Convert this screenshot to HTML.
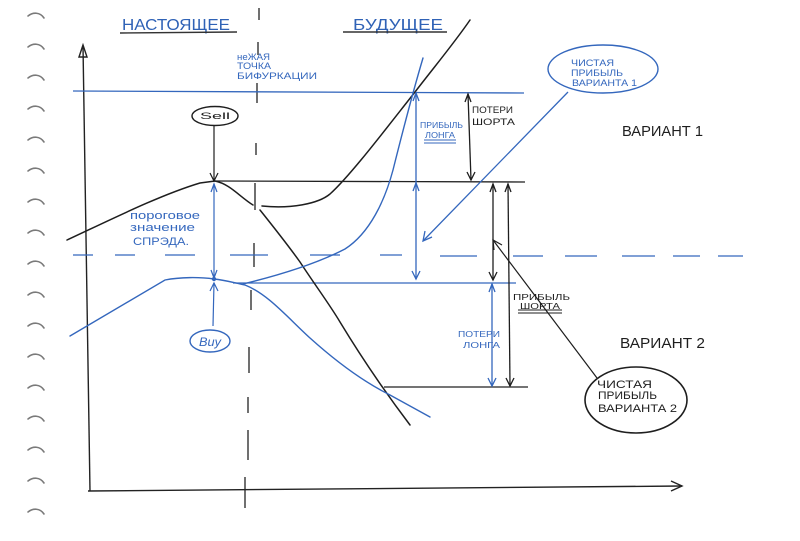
<!DOCTYPE html>
<html><head><meta charset="utf-8">
<style>
html,body{margin:0;padding:0;background:#fff;}
svg{display:block;}
text{font-family:"Liberation Sans","DejaVu Sans",sans-serif;}
</style></head>
<body>
<svg width="800" height="541" viewBox="0 0 800 541" xmlns="http://www.w3.org/2000/svg">
<rect width="800" height="541" fill="#fff"/>
<!-- spiral holes -->
<g stroke="#7a7a7a" stroke-width="1.6" fill="none" stroke-linecap="round">
<path d="M28,16 C33,12 40,12 44,18"/>
<path d="M28,47 C33,43 40,43 44,49"/>
<path d="M28,78 C33,74 40,74 44,80"/>
<path d="M28,109 C33,105 40,105 44,111"/>
<path d="M28,140 C33,136 40,136 44,142"/>
<path d="M28,171 C33,167 40,167 44,173"/>
<path d="M28,202 C33,198 40,198 44,204"/>
<path d="M28,233 C33,229 40,229 44,235"/>
<path d="M28,264 C33,260 40,260 44,266"/>
<path d="M28,295 C33,291 40,291 44,297"/>
<path d="M28,326 C33,322 40,322 44,328"/>
<path d="M28,357 C33,353 40,353 44,359"/>
<path d="M28,388 C33,384 40,384 44,390"/>
<path d="M28,419 C33,415 40,415 44,421"/>
<path d="M28,450 C33,446 40,446 44,452"/>
<path d="M28,481 C33,477 40,477 44,483"/>
<path d="M28,512 C33,508 40,508 44,514"/>
</g>

<!-- titles -->
<g fill="#2f62b6">
<text x="122" y="30" font-size="16" textLength="108" lengthAdjust="spacingAndGlyphs">НАСТОЯЩЕЕ</text>
<text x="353" y="30" font-size="16" textLength="90" lengthAdjust="spacingAndGlyphs">БУДУЩЕЕ</text>
</g>
<g stroke="#333" stroke-width="1.4">
<line x1="120" y1="33" x2="237" y2="32"/>
<line x1="343" y1="32" x2="447" y2="32"/>
</g>

<!-- vertical dashed line -->
<g stroke="#222" stroke-width="1.3">
<line x1="259" y1="8" x2="259" y2="20"/>
<line x1="258" y1="42" x2="258" y2="55"/>
<line x1="257" y1="83" x2="257" y2="103"/>
<line x1="256" y1="143" x2="256" y2="155"/>
<line x1="255" y1="183" x2="255" y2="210"/>
<line x1="254" y1="243" x2="254" y2="267"/>
<line x1="251" y1="290" x2="251" y2="310"/>
<line x1="249" y1="347" x2="249" y2="373"/>
<line x1="248" y1="397" x2="248" y2="413"/>
<line x1="248" y1="430" x2="248" y2="460"/>
<line x1="245" y1="477" x2="245" y2="508"/>
</g>

<!-- axes -->
<g stroke="#222" stroke-width="1.4" fill="none">
<line x1="83" y1="46" x2="90" y2="491"/>
<path d="M79,57 L83,45 L87,57 Z"/>
<line x1="88" y1="491" x2="682" y2="486"/>
<path d="M671,481 L682,486 L671,491"/>
</g>

<!-- horizontal reference lines -->
<g stroke="#3467bd" stroke-width="1.3" fill="none">
<line x1="73" y1="91" x2="524" y2="93"/>
<line x1="233" y1="283" x2="516" y2="283"/>
</g>
<g stroke="#3467bd" stroke-width="1.3">
<line x1="73" y1="255" x2="93" y2="255"/>
<line x1="115" y1="255" x2="135" y2="255"/>
<line x1="165" y1="255" x2="195" y2="255"/>
<line x1="230" y1="255" x2="268" y2="255"/>
<line x1="310" y1="255" x2="340" y2="255"/>
<line x1="380" y1="255" x2="402" y2="255"/>
<line x1="440" y1="256" x2="477" y2="256"/>
<line x1="513" y1="256" x2="543" y2="256"/>
<line x1="565" y1="256" x2="597" y2="256"/>
<line x1="622" y1="256" x2="655" y2="256"/>
<line x1="673" y1="256" x2="700" y2="256"/>
<line x1="718" y1="256" x2="743" y2="256"/>
</g>
<g stroke="#222" stroke-width="1.3">
<line x1="215" y1="181" x2="525" y2="182"/>
<line x1="384" y1="387" x2="528" y2="387"/>
</g>

<!-- black curves -->
<g stroke="#1e1e1e" stroke-width="1.5" fill="none" stroke-linecap="round">
<path d="M67,240 C110,220 160,195 200,183 L215,181 C230,184 240,197 253,205"/>
<path d="M262,206 C290,209 318,204 330,194 C350,176 385,130 415,92 C435,66 455,42 470,20"/>
<path d="M260,210 C280,235 290,248 300,262 C315,285 330,305 340,322 C360,355 385,392 410,425"/>
</g>

<!-- blue curves -->
<g stroke="#3467bd" stroke-width="1.4" fill="none" stroke-linecap="round">
<path d="M70,336 L165,280 C180,277 200,277 214,279 C225,280 235,283 245,285"/>
<path d="M243,284 C280,275 318,263 345,249 C370,233 385,200 393,170 C403,130 412,95 423,58"/>
<path d="M245,285 C268,294 288,318 310,338 C340,365 368,384 390,395 L430,417"/>
</g>

<!-- Sell node -->
<ellipse cx="215" cy="116" rx="23" ry="9.5" fill="#fff" stroke="#1e1e1e" stroke-width="1.4"/>
<text x="200" y="119" font-size="9" fill="#1e1e1e" textLength="30" lengthAdjust="spacingAndGlyphs">Sell</text>
<g stroke="#1e1e1e" stroke-width="1.2" fill="none">
<line x1="214" y1="126" x2="214" y2="181"/>
<path d="M210,173 L214,181 L218,173"/>
</g>

<!-- spread arrow -->
<g stroke="#3467bd" stroke-width="1.2" fill="none">
<line x1="214" y1="184" x2="214" y2="278"/>
<path d="M211,192 L214,184 L217,192"/>
<path d="M211,270 L214,278 L217,270"/>
<line x1="213" y1="326" x2="214" y2="283"/>
<path d="M210,291 L214,283 L218,291"/>
</g>
<circle cx="214" cy="279" r="2.2" fill="#3467bd"/>

<!-- Buy node -->
<ellipse cx="210" cy="341" rx="20" ry="11" fill="#fff" stroke="#3467bd" stroke-width="1.4"/>
<text x="199" y="346" font-size="12" font-style="italic" fill="#3467bd" textLength="22" lengthAdjust="spacingAndGlyphs">Buy</text>

<!-- spread label -->
<g fill="#3467bd" font-size="11">
<text x="130" y="219" textLength="70" lengthAdjust="spacingAndGlyphs">пороговое</text>
<text x="130" y="231" textLength="65" lengthAdjust="spacingAndGlyphs">значение</text>
<text x="133" y="245" textLength="56" lengthAdjust="spacingAndGlyphs">СПРЭДА.</text>
</g>

<!-- bifurcation label -->
<g fill="#3467bd" font-size="9">
<text x="237" y="60" textLength="33" lengthAdjust="spacingAndGlyphs">неЖАЯ</text>
<text x="237" y="69" textLength="34" lengthAdjust="spacingAndGlyphs">ТОЧКА</text>
<text x="237" y="79" textLength="80" lengthAdjust="spacingAndGlyphs">БИФУРКАЦИИ</text>
</g>

<!-- blue profit long arrow -->
<g stroke="#3467bd" stroke-width="1.3" fill="none">
<line x1="416" y1="93" x2="416" y2="279"/>
<path d="M413,101 L416,93 L419,101"/>
<path d="M413,191 L416,183 L419,191"/>
<path d="M412,271 L416,279 L420,271"/>
</g>
<g fill="#3467bd" font-size="8.5">
<text x="420" y="128" textLength="43" lengthAdjust="spacingAndGlyphs">ПРИБЫЛЬ</text>
<text x="425" y="138" textLength="30" lengthAdjust="spacingAndGlyphs">ЛОНГА</text>
</g>
<g stroke="#3467bd" stroke-width="1">
<line x1="424" y1="140" x2="456" y2="140"/>
<line x1="424" y1="143" x2="456" y2="143"/>
</g>

<!-- black short loss arrow -->
<g stroke="#1e1e1e" stroke-width="1.3" fill="none">
<line x1="468" y1="94" x2="471" y2="180"/>
<path d="M465,102 L468,94 L471,102"/>
<path d="M467,172 L471,180 L475,172"/>
</g>
<g fill="#1e1e1e" font-size="9">
<text x="472" y="113" textLength="41" lengthAdjust="spacingAndGlyphs">ПОТЕРИ</text>
<text x="472" y="125" textLength="43" lengthAdjust="spacingAndGlyphs">ШОРТА</text>
</g>

<!-- right arrows variant 2 -->
<g stroke="#1e1e1e" stroke-width="1.3" fill="none">
<line x1="493" y1="184" x2="493" y2="280"/>
<path d="M490,192 L493,184 L496,192"/>
<path d="M489,272 L493,280 L497,272"/>
<line x1="508" y1="184" x2="510" y2="386"/>
<path d="M505,192 L508,184 L511,192"/>
<path d="M506,378 L510,386 L514,378"/>
</g>
<g stroke="#3467bd" stroke-width="1.3" fill="none">
<line x1="492" y1="284" x2="492" y2="386"/>
<path d="M489,292 L492,284 L495,292"/>
<path d="M488,378 L492,386 L496,378"/>
</g>
<g fill="#3467bd" font-size="8.5">
<text x="458" y="337" textLength="42" lengthAdjust="spacingAndGlyphs">ПОТЕРИ</text>
<text x="463" y="348" textLength="37" lengthAdjust="spacingAndGlyphs">ЛОНГА</text>
</g>
<g fill="#1e1e1e" font-size="8.5">
<text x="513" y="300" textLength="57" lengthAdjust="spacingAndGlyphs">ПРИБЫЛЬ</text>
<text x="520" y="309" textLength="40" lengthAdjust="spacingAndGlyphs">ШОРТА</text>
</g>
<g stroke="#1e1e1e" stroke-width="1">
<line x1="518" y1="310" x2="562" y2="310"/>
<line x1="518" y1="313" x2="562" y2="313"/>
</g>

<!-- ellipse 1 -->
<ellipse cx="603" cy="69" rx="55" ry="24" fill="#fff" stroke="#3467bd" stroke-width="1.4"/>
<g fill="#3467bd" font-size="9.5">
<text x="571" y="66" textLength="43" lengthAdjust="spacingAndGlyphs">ЧИСТАЯ</text>
<text x="571" y="76" textLength="52" lengthAdjust="spacingAndGlyphs">ПРИБЫЛЬ</text>
<text x="572" y="86" textLength="65" lengthAdjust="spacingAndGlyphs">ВАРИАНТА 1</text>
</g>
<g stroke="#3467bd" stroke-width="1.3" fill="none">
<line x1="568" y1="92" x2="423" y2="241"/>
<path d="M425,231 L423,241 L432,237"/>
</g>

<!-- ellipse 2 -->
<ellipse cx="636" cy="400" rx="51" ry="33" fill="#fff" stroke="#1e1e1e" stroke-width="1.6"/>
<g fill="#1e1e1e" font-size="11">
<text x="597" y="388" textLength="55" lengthAdjust="spacingAndGlyphs">ЧИСТАЯ</text>
<text x="598" y="399" textLength="59" lengthAdjust="spacingAndGlyphs">ПРИБЫЛЬ</text>
<text x="598" y="412" textLength="79" lengthAdjust="spacingAndGlyphs">ВАРИАНТА 2</text>
</g>
<g stroke="#1e1e1e" stroke-width="1.2" fill="none">
<line x1="597" y1="378" x2="493" y2="240"/>
<path d="M494,250 L493,240 L502,245"/>
</g>

<!-- variant labels -->
<g fill="#1e1e1e" font-size="15">
<text x="622" y="136" textLength="81" lengthAdjust="spacingAndGlyphs">ВАРИАНТ 1</text>
<text x="620" y="348" textLength="85" lengthAdjust="spacingAndGlyphs">ВАРИАНТ 2</text>
</g>
</svg>
</body></html>
